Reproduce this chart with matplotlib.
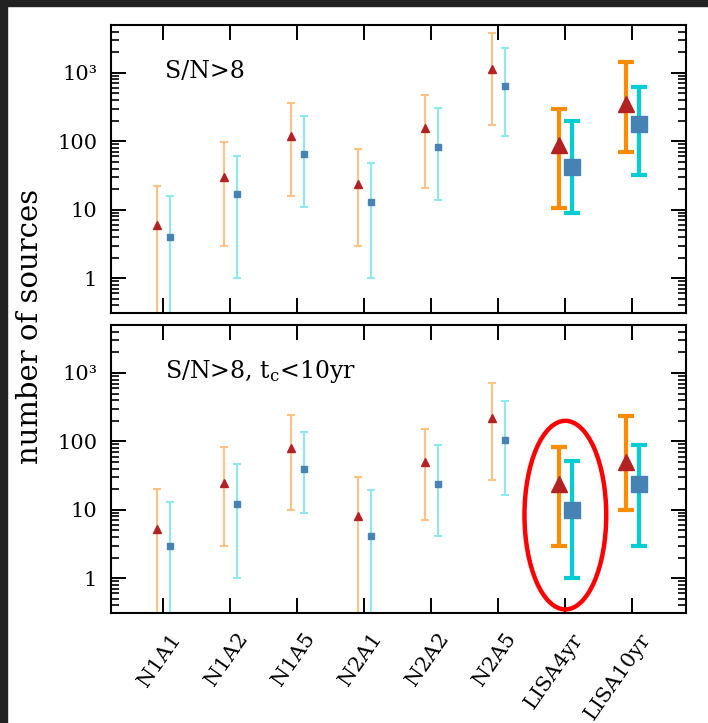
import numpy as np
import matplotlib
matplotlib.use("Agg")
import matplotlib.pyplot as plt
from matplotlib.patches import Ellipse, Rectangle
from matplotlib.ticker import FixedLocator, FuncFormatter, LogLocator, NullFormatter
import matplotlib.transforms as mtransforms

plt.rcParams['font.family'] = ['DejaVu Serif']
plt.rcParams['mathtext.fontset'] = 'dejavuserif'

# configurations
configs = ["N1A1", "N1A2", "N1A5", "N2A1", "N2A2", "N2A5", "LISA4yr", "LISA10yr"]

# panel 1: S/N>8  (triangles = model A, squares = model B)
tri_top = [6.0, 30, 121, 23.6, 155, 1137, 88, 347]
tri_top_lo = [0.1, 3.0, 16, 3.0, 21, 173, 10.7, 69]
tri_top_hi = [22, 99, 366, 76, 470, 3850, 299, 1423]
sq_top = [4.0, 17, 65, 13, 82, 642, 42, 177]
sq_top_lo = [0.1, 1.0, 11, 1.0, 14, 120, 8.9, 32]
sq_top_hi = [16, 62, 232, 48, 303, 2327, 198, 627]

# panel 2: S/N>8, t_c<10yr
tri_bot = [5.2, 25, 81, 8.2, 50, 221, 24, 50]
tri_bot_lo = [0.1, 3.0, 10, 0.1, 7.1, 27.6, 3.0, 10]
tri_bot_hi = [20, 83, 245, 30, 150, 711, 82, 232]
sq_bot = [3.0, 12.2, 39, 4.1, 23.6, 103, 10, 24]
sq_bot_lo = [0.1, 1.0, 9.1, 0.1, 4.1, 16.3, 1.0, 3.0]
sq_bot_hi = [13, 46, 138, 19.5, 87, 384, 52, 87]

panel_titles = ["S/N>8", r"S/N>8, t$_{\rm c}$<10yr"]

x = np.arange(1, len(configs) + 1)
is_lisa = np.array([c.startswith("LISA") for c in configs])

fig = plt.figure(figsize=(7.08, 7.23), dpi=100)
fig.patch.set_facecolor("white")
# dark frame on top and left of the screenshot
fig.patches.append(Rectangle((0, 1 - 6 / 723), 1, 6 / 723, transform=fig.transFigure,
                             color="#222222", zorder=0))
fig.patches.append(Rectangle((0, 0), 7 / 708, 1, transform=fig.transFigure,
                             color="#222222", zorder=0))

ax1 = fig.add_axes([0.1568, 0.5671, 0.8121, 0.3983])
ax2 = fig.add_axes([0.1568, 0.1521, 0.8121, 0.3983])


def labfmt(v, pos):
    if v >= 999:
        return "10³"
    return "%d" % round(v)


def draw(ax, tv, tlo, thi, sv, slo, shi, title):
    tv, tlo, thi = map(np.array, (tv, tlo, thi))
    sv, slo, shi = map(np.array, (sv, slo, shi))
    for big in (False, True):
        m = is_lisa == big
        lw = 3.0 if big else 1.5
        cs = 6 if big else 3
        c_or = "#ff8c00" if big else "#ffc285"
        c_cy = "#00cdd4" if big else "#8ee9ee"
        ax.errorbar(x[m] - 0.1, tv[m], yerr=[tv[m] - tlo[m], thi[m] - tv[m]], fmt="none",
                    ecolor=c_or, elinewidth=lw, capsize=cs, capthick=lw, zorder=2)
        ax.errorbar(x[m] + 0.1, sv[m], yerr=[sv[m] - slo[m], shi[m] - sv[m]], fmt="none",
                    ecolor=c_cy, elinewidth=lw, capsize=cs, capthick=lw, zorder=2)
        ax.plot(x[m] - 0.1, tv[m], "^", color="#b22222", ms=12 if big else 6,
                mec="#b22222", zorder=3, ls="none")
        ax.plot(x[m] + 0.1, sv[m], "s", color="#4682b4", ms=11 if big else 5,
                mec="#4682b4", zorder=3, ls="none")

    ax.set_yscale("log")
    ax.set_ylim(0.31, 5000)
    ax.set_xlim(0.22, 8.8)
    ax.yaxis.set_major_locator(FixedLocator([1, 10, 100, 1000]))
    ax.yaxis.set_major_formatter(FuncFormatter(labfmt))
    ax.yaxis.set_minor_locator(LogLocator(base=10, subs=np.arange(2, 10)))
    ax.yaxis.set_minor_formatter(NullFormatter())
    ax.set_xticks(x)
    ax.tick_params(axis="both", which="major", direction="in", length=11, width=1.4,
                   top=True, right=True, labelsize=15)
    ax.tick_params(axis="y", which="major", pad=10)
    ax.tick_params(axis="y", which="minor", direction="in", length=6, width=1.2,
                   right=True)
    for s in ax.spines.values():
        s.set_linewidth(1.5)
    ax.text(0.094, 0.84, title, transform=ax.transAxes, fontsize=17, va="center", ha="left")


draw(ax1, tri_top, tri_top_lo, tri_top_hi, sq_top, sq_top_lo, sq_top_hi, panel_titles[0])
draw(ax2, tri_bot, tri_bot_lo, tri_bot_hi, sq_bot, sq_bot_lo, sq_bot_hi, panel_titles[1])

ax1.set_xticklabels([])
ax2.set_xticklabels(configs, rotation=55, ha="right", rotation_mode="anchor", fontsize=15)
ax2.tick_params(axis="x", pad=12)
shift = mtransforms.ScaledTranslation(6 / 100, 0, fig.dpi_scale_trans)
for lab in ax2.get_xticklabels():
    lab.set_transform(lab.get_transform() + shift)

# highlight LISA4yr in the lower panel
trans = mtransforms.blended_transform_factory(ax2.transData, ax2.transAxes)
ax2.add_patch(Ellipse((x[configs.index("LISA4yr")], 0.34), 1.22, 0.655, transform=trans,
                      fill=False, edgecolor="red", lw=3.2, zorder=5, clip_on=False))

fig.text(30 / 708, 0.549, "number of sources", rotation=90, fontsize=21,
         ha="center", va="center")

fig.savefig("out.png", dpi=100)
